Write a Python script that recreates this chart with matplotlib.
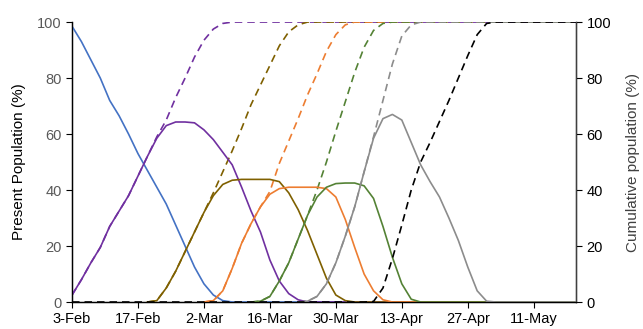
import numpy as np
import matplotlib.pyplot as plt

plt.rcParams['font.family'] = ['Liberation Sans', 'DejaVu Sans']

nan = np.nan

# Days since 3-Feb (every second day, last point at the right edge)
days = list(range(0, 107, 2)) + [107]

tick_days = [0, 14, 28, 42, 56, 70, 84, 98]
tick_labels = ['3-Feb', '17-Feb', '2-Mar', '16-Mar', '30-Mar', '13-Apr', '27-Apr', '11-May']


def pad(start, vals, fill=nan, end=0.0):
    # place values starting at day index `start`, fill before, constant after
    out = [fill] * start + list(vals)
    out += [end] * (len(days) - len(out))
    return out


# Present population per stage (%)
stage1 = pad(0, [98.5, 93, 86.5, 80, 72, 66.5, 60, 53, 47, 41, 35, 27.5, 20, 12.5,
                 6.5, 2.5, 0.5, 0])
stage2 = pad(0, [2.5, 8, 14, 19.5, 27, 32.5, 38, 45, 52, 58.5, 63, 64.3, 64.3, 64,
                 61.5, 58, 53.5, 49, 41, 32.5, 25, 15, 7.5, 3, 0.8, 0])
stage3 = pad(8, [0, 0.5, 5, 11, 18, 25, 32, 38, 42, 43.5, 43.8, 43.8, 43.8, 43.8,
                 43, 39, 33, 25.5, 17, 8.5, 2.5, 0.5, 0])
stage4 = pad(14, [0, 0.5, 4, 12, 21, 28, 34, 38.5, 40.5, 41, 41, 41, 41, 40.5,
                  37.5, 29.5, 19.5, 10, 4, 0.8, 0])
stage5 = pad(19, [0, 0.3, 2, 7.5, 14, 22.5, 31, 37.5, 41, 42.3, 42.5, 42.5, 41.5,
                  37, 27, 16, 6.5, 1, 0])
stage6 = pad(24, [0, 0.3, 2, 6.5, 14, 23.5, 34, 46.5, 58.5, 65.5, 67, 65, 57, 49,
                  43, 37.5, 30, 22, 12.5, 4, 0.3, 0])

# Cumulative population per stage (%)
cum2 = pad(0, [2.5, 8, 14, 19.5, 27, 32.5, 38, 45, 52, 59, 65, 73, 80, 87.5, 93.5,
               97.5, 99.5, 100], end=100.0)
cum3 = pad(8, [0, 0.5, 5, 11, 18, 25, 32, 39, 46.5, 54, 62, 70.5, 77.5, 84.5, 91.5,
               96.5, 99, 100], end=100.0)
cum4 = pad(14, [0, 0.5, 4, 12, 21, 28, 34, 39.5, 49.5, 57.5, 65.5, 74, 81.5, 89.5,
                95.5, 99, 100], end=100.0)
cum5 = pad(19, [0, 0.3, 2, 7.5, 14, 22.5, 31, 40, 50, 61, 71.5, 82, 91, 97, 99.5,
                100], end=100.0)
cum6 = pad(24, [0, 0.3, 2, 6.5, 14, 23.5, 34, 46.5, 59, 72, 85, 95, 99, 100],
           end=100.0)
cum7 = pad(0, [0] * 32 + [0.2, 5, 15.5, 27.5, 40, 50, 57, 64.5, 72, 80, 88, 95.5,
                          99.5, 100], end=100.0)

colors = ['#4472C4', '#7030A0', '#7F6000', '#ED7D31', '#548235', '#8C8C8C']

fig = plt.figure(figsize=(6.43, 3.29), dpi=100)
ax = fig.add_axes([0.112, 0.082, 0.784, 0.851])

lw = 1.2
dash = (0, (4.5, 3))
for vals, c in zip([cum2, cum3, cum4, cum5, cum6], colors[1:]):
    ax.plot(days, vals, color=c, lw=lw, linestyle=dash, zorder=2)
for vals, c in zip([stage1, stage2, stage3, stage4, stage5, stage6], colors):
    ax.plot(days, vals, color=c, lw=lw, zorder=3)
ax.plot(days, cum7, color='black', lw=lw, linestyle=dash, zorder=4)

ax.set_xlim(0, 107)
ax.set_ylim(0, 100)
ax.set_xticks(tick_days)
ax.set_xticklabels(tick_labels)
ax.set_yticks(range(0, 101, 20))
ax.tick_params(axis='x', direction='out', length=4, labelsize=10.5, colors='black')
ax.tick_params(axis='y', direction='out', length=4, labelsize=10.5, labelcolor='#595959')
ax.set_ylabel('Present Population (%)', fontsize=11, labelpad=8)
ax.spines['top'].set_visible(False)
for s in ['left', 'bottom', 'right']:
    ax.spines[s].set_linewidth(1.0)

ax2 = ax.twinx()
ax2.set_ylim(0, 100)
ax2.set_yticks(range(0, 101, 20))
ax2.tick_params(axis='y', direction='out', length=4, labelsize=10.5)
ax2.set_ylabel('Cumulative population (%)', fontsize=11, color='#404040', labelpad=11)
ax2.spines['top'].set_visible(False)
ax2.spines['right'].set_color('#404040')

fig.savefig('out.png', dpi=100)
